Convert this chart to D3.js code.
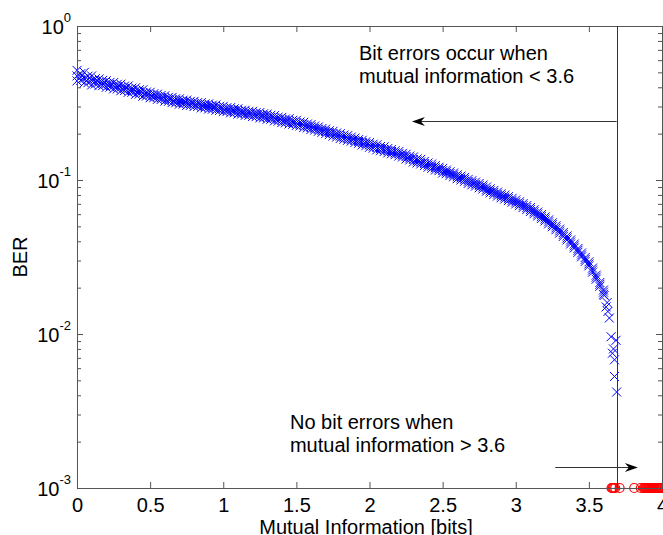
<!DOCTYPE html>
<html>
<head>
<meta charset="utf-8">
<script src="https://cdn.jsdelivr.net/npm/d3@7"></script>
<style>
  body { margin: 0; background: #fff; }
  text { font-family: "Liberation Sans", Arial, sans-serif; }
</style>
</head>
<body>
<div id="chart"></div>
<script>
// scatter: centre row of the blue cloud
const mi = [0,0.025,0.05,0.075,0.1,0.125,0.15,0.175,0.2,0.225,0.25,0.275,0.3,0.325,0.35,0.375,0.4,0.425,0.45,0.475,
  0.5,0.525,0.55,0.575,0.6,0.625,0.65,0.675,0.7,0.725,0.75,0.775,0.8,0.825,0.85,0.875,0.9,0.925,0.95,0.975,
  1,1.025,1.05,1.075,1.1,1.125,1.15,1.175,1.2,1.225,1.25,1.275,1.3,1.325,1.35,1.375,1.4,1.425,1.45,1.475,
  1.5,1.525,1.55,1.575,1.6,1.625,1.65,1.675,1.7,1.725,1.75,1.775,1.8,1.825,1.85,1.875,1.9,1.925,1.95,1.975,
  2,2.025,2.05,2.075,2.1,2.125,2.15,2.175,2.2,2.225,2.25,2.275,2.3,2.325,2.35,2.375,2.4,2.425,2.45,2.475,
  2.5,2.525,2.55,2.575,2.6,2.625,2.65,2.675,2.7,2.725,2.75,2.775,2.8,2.825,2.85,2.875,2.9,2.925,2.95,2.975,
  3,3.025,3.05,3.075,3.1,3.125,3.15,3.175,3.2,3.225,3.25,3.275,3.3,3.325,3.35,3.375,3.4,3.425,3.45,3.475,
  3.5,3.525,3.55,3.575,3.6];
const berMid = [.474,.466,.458,.450,.443,.437,.431,.426,.420,.415,.409,.404,.399,.394,.389,.383,.378,.373,.367,.362,
  .356,.352,.347,.343,.338,.334,.331,.327,.323,.320,.317,.314,.312,.309,.306,.303,.300,.297,.295,.292,
  .289,.286,.284,.281,.279,.276,.273,.271,.268,.266,.263,.261,.258,.255,.252,.248,.245,.242,.240,.237,
  .235,.231,.228,.224,.221,.217,.214,.210,.207,.203,.200,.196,.193,.190,.187,.184,.181,.178,.175,.172,
  .169,.166,.163,.160,.158,.155,.153,.150,.148,.145,.142,.139,.136,.133,.131,.128,.125,.123,.120,.118,
  .115,.113,.110,.108,.105,.103,.101,.098,.096,.094,.092,.090,.087,.085,.083,.081,.079,.0775,.0757,.0738,
  .0720,.0701,.0682,.0662,.0643,.0622,.0601,.0579,.0558,.0535,.0512,.0489,.0466,.0443,.0420,.0396,.0373,.0349,.0326,.0305,
  .0285,.0260,.0234,.0210,.0187];

// outer edges of the cloud
const miEdge = [0,0.05,0.1,0.15,0.2,0.25,0.3,0.35,0.4,0.45,0.5,0.55,0.6,0.65,0.7,0.75,0.8,0.85,0.9,0.95,
  1,1.05,1.1,1.15,1.2,1.25,1.3,1.35,1.4,1.45,1.5,1.55,1.6,1.65,1.7,1.75,1.8,1.85,1.9,1.95,
  2,2.05,2.1,2.15,2.2,2.25,2.3,2.35,2.4,2.45,2.5,2.55,2.6,2.65,2.7,2.75,2.8,2.85,2.9,2.95,
  3,3.05,3.1,3.15,3.2,3.25,3.3,3.35,3.4,3.45,3.5,3.55,3.6];
const berHi = [.515,.500,.474,.453,.441,.429,.419,.408,.397,.385,.371,.361,.352,.344,.336,.330,.324,.318,.312,.307,
  .301,.295,.290,.284,.279,.274,.268,.262,.255,.250,.244,.237,.229,.221,.214,.207,.200,.194,.187,.181,
  .175,.169,.164,.158,.153,.147,.141,.136,.129,.124,.119,.113,.108,.104,.099,.095,.090,.0855,.0814,.078,
  .0742,.0702,.0662,.0619,.0575,.0527,.0480,.0433,.0384,.0336,.0294,.0241,.0193];
const berLo = [.440,.428,.414,.410,.400,.390,.380,.371,.360,.350,.342,.334,.325,.318,.311,.305,.300,.294,.289,.284,
  .278,.273,.268,.263,.258,.253,.248,.242,.236,.231,.226,.219,.213,.207,.200,.193,.186,.181,.175,.169,
  .163,.157,.153,.148,.143,.137,.131,.127,.121,.116,.111,.107,.102,.098,.093,.089,.0845,.0806,.0767,.0735,
  .0699,.0662,.0624,.0584,.0542,.0497,.0452,.0408,.0362,.0317,.0277,.0227,.0181];

// inner rows, between the edge samples
const miInner = [0.025,0.075,0.125,0.175,0.225,0.275,0.325,0.375,0.425,0.475,0.525,0.575,0.625,0.675,0.725,0.775,0.825,0.875,0.925,0.975,
  1.025,1.075,1.125,1.175,1.225,1.275,1.325,1.375,1.425,1.475,1.525,1.575,1.625,1.675,1.725,1.775,1.825,1.875,1.925,1.975,
  2.025,2.075,2.125,2.175,2.225,2.275,2.325,2.375,2.425,2.475,2.525,2.575,2.625,2.675,2.725,2.775,2.825,2.875,2.925,2.975,
  3.025,3.075,3.125,3.175,3.225,3.275,3.325,3.375,3.425,3.475,3.525,3.575];
const berInHi = [.490,.472,.455,.443,.430,.418,.407,.395,.385,.373,.363,.354,.344,.337,.330,.324,.318,.312,.306,.301,
  .295,.290,.284,.279,.274,.269,.263,.256,.249,.244,.238,.231,.224,.216,.209,.202,.196,.190,.183,.177,
  .171,.165,.160,.155,.149,.143,.137,.132,.127,.121,.116,.111,.106,.101,.097,.0927,.0876,.0834,.0798,.0760,
  .0722,.0682,.0641,.0596,.0551,.0504,.0456,.0408,.0359,.0314,.0268,.0216];
const berInLo = [.444,.429,.420,.410,.401,.390,.381,.371,.361,.351,.342,.333,.324,.317,.311,.305,.300,.294,.288,.283,
  .278,.273,.268,.263,.258,.253,.248,.241,.235,.230,.224,.218,.211,.204,.197,.190,.184,.179,.173,.167,
  .161,.155,.150,.146,.141,.135,.129,.124,.119,.115,.110,.105,.100,.095,.0913,.0874,.0825,.0786,.0752,.0717,
  .0681,.0643,.0604,.0562,.0519,.0475,.0430,.0384,.0339,.0296,.0252,.0204];

// steep tail near the threshold
const miTail = [3.605,3.618,3.625,3.63,3.64,3.652,3.661,3.668,3.675,3.686,3.675,3.69];
const berTail = [.0178,.0150,.0160,.0140,.0127,.0096,.0075,.0080,.0068,.0091,.0053,.0042];

// zero-error runs, drawn on the 1e-3 floor
const miZero = [3.655,3.66,3.665,3.672,3.68,3.71,3.81,3.855,3.875,3.88,3.885,3.89,3.895,3.9,3.905,3.91,3.915,3.92,
  3.925,3.93,3.935,3.94,3.945,3.95,3.955,3.96,3.965,3.97,3.975,3.98,3.985,3.99,3.995,4.0];
const berFloor = 1e-3;

const xTicks = [0,0.5,1,1.5,2,2.5,3,3.5,4];
const xTickLabels = ["0","0.5","1","1.5","2","2.5","3","3.5","4"];
const yMajor = [1e-3,1e-2,1e-1,1];
const yExp = ["-3","-2","-1","0"];
const yMinor = [.002,.003,.004,.005,.006,.007,.008,.009,.02,.03,.04,.05,.06,.07,.08,.09,.2,.3,.4,.5,.6,.7,.8,.9];

const threshold = 3.69;
const noteTop = ["Bit errors occur when", "mutual information < 3.6"];
const noteBottom = ["No bit errors when", "mutual information > 3.6"];

const width = 663, height = 535;
const x = d3.scaleLinear().domain([0,4]).range([77,662]);
const y = d3.scaleLog().domain([1e-3,1]).range([488,26]);

const svg = d3.select("#chart").append("svg")
  .attr("width", width).attr("height", height)
  .style("display", "block");

const axisColor = "#555";
const xMark = "M-4.5,-4.5L4.5,4.5M-4.5,4.5L4.5,-4.5";

function drawCross(xs, ys) {
  svg.append("g").selectAll("path")
    .data(xs)
  .enter().append("path")
    .attr("d", xMark)
    .attr("transform", function(d,i){ return "translate(" + x(d) + "," + y(ys[i]) + ")"; })
    .attr("fill", "none")
    .attr("stroke", "#0000ff")
    .attr("stroke-width", 1);
}
drawCross(miEdge, berHi);
drawCross(miEdge, berLo);
drawCross(miInner, berInHi);
drawCross(miInner, berInLo);
drawCross(mi, berMid);
drawCross(miTail, berTail);

svg.append("g").selectAll("circle")
  .data(miZero)
.enter().append("circle")
  .attr("cx", function(d){ return x(d); })
  .attr("cy", y(berFloor))
  .attr("r", 4.5)
  .attr("fill", "none")
  .attr("stroke", "#ff0000")
  .attr("stroke-width", 1.2);

// axes (box)
function styleAxis(g) {
  g.selectAll(".domain").attr("stroke", axisColor);
  g.selectAll(".tick line").attr("stroke", axisColor);
  g.selectAll("text").attr("fill", "#000").style("font-size", "20px")
    .style("font-family", "'Liberation Sans', Arial, sans-serif");
}

svg.append("g")
  .attr("transform", "translate(0,488)")
  .call(d3.axisBottom(x).tickValues(xTicks).tickSizeInner(-6).tickSizeOuter(0).tickPadding(10)
    .tickFormat(function(d,i){ return xTickLabels[i]; }))
  .call(styleAxis);

svg.append("g")
  .attr("transform", "translate(0,26)")
  .call(d3.axisTop(x).tickValues(xTicks).tickSizeInner(-6).tickSizeOuter(0).tickFormat(""))
  .call(styleAxis);

svg.append("g")
  .attr("transform", "translate(77,0)")
  .call(d3.axisLeft(y).tickValues(yMajor).tickSizeInner(-6).tickSizeOuter(0).tickFormat(""))
  .call(styleAxis);

svg.append("g")
  .attr("transform", "translate(77,0)")
  .call(d3.axisLeft(y).tickValues(yMinor).tickSizeInner(-4).tickSizeOuter(0).tickFormat(""))
  .call(styleAxis)
  .select(".domain").remove();

svg.append("g")
  .attr("transform", "translate(662,0)")
  .call(d3.axisRight(y).tickValues(yMajor).tickSizeInner(-6).tickSizeOuter(0).tickFormat(""))
  .call(styleAxis);

svg.append("g")
  .attr("transform", "translate(662,0)")
  .call(d3.axisRight(y).tickValues(yMinor).tickSizeInner(-4).tickSizeOuter(0).tickFormat(""))
  .call(styleAxis)
  .select(".domain").remove();

// y tick labels 10^n
const yLab = svg.append("g").selectAll("text")
  .data(yMajor)
.enter().append("text")
  .attr("x", 71)
  .attr("y", function(d){ return y(d) + 7.5; })
  .attr("text-anchor", "end")
  .style("font-size", "20px");
yLab.append("tspan").text("10");
yLab.append("tspan")
  .attr("dy", -12)
  .style("font-size", "13px")
  .text(function(d,i){ return yExp[i]; });

// axis titles
svg.append("text")
  .attr("x", 366).attr("y", 534)
  .attr("text-anchor", "middle")
  .style("font-size", "20px")
  .text("Mutual Information [bits]");

svg.append("text")
  .attr("transform", "translate(27,257) rotate(-90)")
  .attr("text-anchor", "middle")
  .style("font-size", "20px")
  .text("BER");

// threshold line and annotations
const tx = Math.round(x(threshold)) + 0.5;
svg.append("line")
  .attr("x1", tx).attr("x2", tx)
  .attr("y1", y(1)).attr("y2", y(1e-3))
  .attr("stroke", "#333").attr("stroke-width", 1);

function arrow(x1, x2, ber) {
  const yy = Math.round(y(ber)) + 0.5;
  const a = x(x1), b = x(x2);
  const dir = b > a ? 1 : -1;
  svg.append("line")
    .attr("x1", a).attr("x2", b - dir*8)
    .attr("y1", yy).attr("y2", yy)
    .attr("stroke", "#333").attr("stroke-width", 1);
  svg.append("path")
    .attr("d", "M0,0L" + (-13*dir) + ",-4.5L" + (-9*dir) + ",0L" + (-13*dir) + ",4.5Z")
    .attr("transform", "translate(" + b + "," + yy + ")")
    .attr("fill", "#000");
}
arrow(threshold, 2.29, 0.2415);
arrow(3.27, 3.835, 0.001375);

function note(lines, mx, ber) {
  const t = svg.append("text")
    .attr("x", x(mx)).attr("y", y(ber))
    .style("font-size", "20px");
  t.selectAll("tspan")
    .data(lines)
  .enter().append("tspan")
    .attr("x", x(mx))
    .attr("dy", function(d,i){ return i ? 23 : 0; })
    .text(function(d){ return d; });
}
note(noteTop, 1.928, 0.6013);
note(noteBottom, 1.456, 0.002416);
</script>
</body>
</html>
